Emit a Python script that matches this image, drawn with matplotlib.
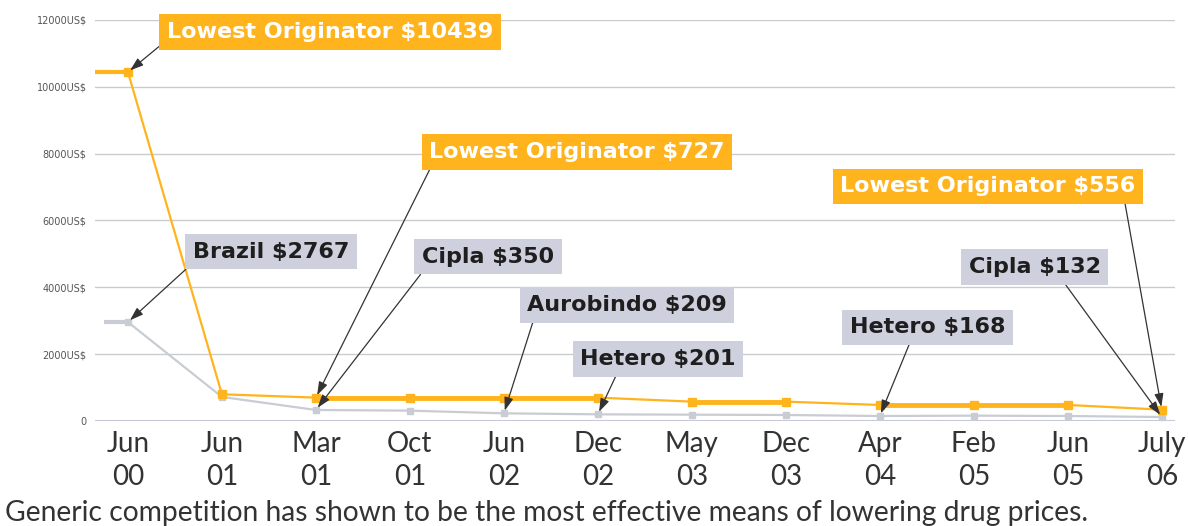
import matplotlib

matplotlib.use("Agg")

import matplotlib.pyplot as plt

# data
periods = ["Jun\n00", "Jun\n01", "Mar\n01", "Oct\n01", "Jun\n02", "Dec\n02",
           "May\n03", "Dec\n03", "Apr\n04", "Feb\n05", "Jun\n05", "July\n06"]
originator = [10439, 800, 700, 700, 700, 700, 580, 580, 480, 480, 480, 340]
generic = [2960, 720, 330, 310, 230, 200, 190, 180, 150, 160, 150, 120]
y_ticks = [0, 2000, 4000, 6000, 8000, 10000, 12000]

# callouts: text, series, period index, box centre (x, y), arrow start inside box
callouts = [
    ("Lowest Originator $10439", "orig", 0, (2.15, 11640), (0.0, 0.1)),
    ("Lowest Originator $727", "orig", 2, (4.78, 8050), (0.015, 0.05)),
    ("Lowest Originator $556", "orig", 11, (9.15, 7030), (0.96, 0.0)),
    ("Brazil $2767", "gen", 0, (1.52, 5060), (0.02, 0.08)),
    ("Cipla $350", "gen", 2, (3.83, 4910), (0.04, 0.05)),
    ("Aurobindo $209", "gen", 4, (5.31, 3470), (0.04, 0.0)),
    ("Hetero $201", "gen", 5, (5.64, 1855), (0.25, 0.0)),
    ("Hetero $168", "gen", 8, (8.51, 2810), (0.4, 0.0)),
    ("Cipla $132", "gen", 11, (9.65, 4610), (0.69, 0.0)),
]

ORANGE = "#ffb41e"
GREY_LINE = "#c9ccd2"
GREY_BOX = "#cfd0dd"
GRID = "#c8cccc"

fig = plt.figure(figsize=(11.88, 5.26), dpi=100)
ax = fig.add_axes([0.08, 0.1996, 0.909, 0.7624])

x = list(range(len(periods)))
x_left = -0.35

# short lead-in stubs at the start of each line
ax.plot([x_left, 0], [originator[0]] * 2, color=ORANGE, lw=3, solid_capstyle="butt")
ax.plot([x_left + 0.1, 0], [generic[0]] * 2, color=GREY_LINE, lw=3, solid_capstyle="butt")

ax.plot(x, generic, color=GREY_LINE, lw=1.6, marker="s", ms=5, mec=GREY_LINE, mfc=GREY_LINE, zorder=3)
ax.plot(x, originator, color=ORANGE, lw=1.6, zorder=4)
for i in range(len(x) - 1):
    if originator[i] == originator[i + 1]:
        ax.plot([x[i], x[i + 1]], [originator[i], originator[i + 1]], color=ORANGE, lw=3.5, zorder=4)
ax.plot(x, originator, ls="none", marker="s", ms=6, mec=ORANGE, mfc=ORANGE, zorder=5)

for text, series, idx, (tx, ty), rel in callouts:
    orange = series == "orig"
    yv = originator[idx] if orange else generic[idx]
    ax.annotate(
        text,
        xy=(x[idx], yv),
        xytext=(tx, ty),
        ha="center",
        va="center",
        fontsize=16,
        fontweight="bold",
        family=["DejaVu Sans"],
        color="white" if orange else "#1e1e1e",
        bbox=dict(boxstyle="square,pad=0.34", fc=ORANGE if orange else GREY_BOX, ec="none"),
        arrowprops=dict(arrowstyle="-|>,head_length=0.5,head_width=0.17", color="#333333",
                        lw=0.9, relpos=rel, shrinkA=0, shrinkB=2),
        annotation_clip=False,
        zorder=6,
    )

ax.set_xlim(x_left, 11.14)
ax.set_ylim(0, 12000)
ax.set_yticks(y_ticks)
ax.set_yticklabels(["0"] + [f"{v}US$" for v in y_ticks[1:]], fontsize=7, color="#555555")
ax.set_xticks(x)
ax.set_xticklabels(periods, fontsize=20, color="#333333", family=["Lato", "DejaVu Sans"],
                   linespacing=1.35)
ax.tick_params(axis="both", length=0)
ax.tick_params(axis="x", pad=7)
ax.tick_params(axis="y", pad=6)
ax.grid(axis="y", color=GRID, lw=1)
ax.set_axisbelow(True)
for side in ["top", "right", "left", "bottom"]:
    ax.spines[side].set_visible(False)
ax.axhline(0, color="#c8c8d8", lw=1.5, zorder=1)

fig.text(0.004, 0.025, "Generic competition has shown to be the most effective means of lowering drug prices.",
         fontsize=20.3, color="#333333", family=["Lato", "DejaVu Sans"], va="center")

fig.savefig("out.png", dpi=100)
plt.close(fig)
